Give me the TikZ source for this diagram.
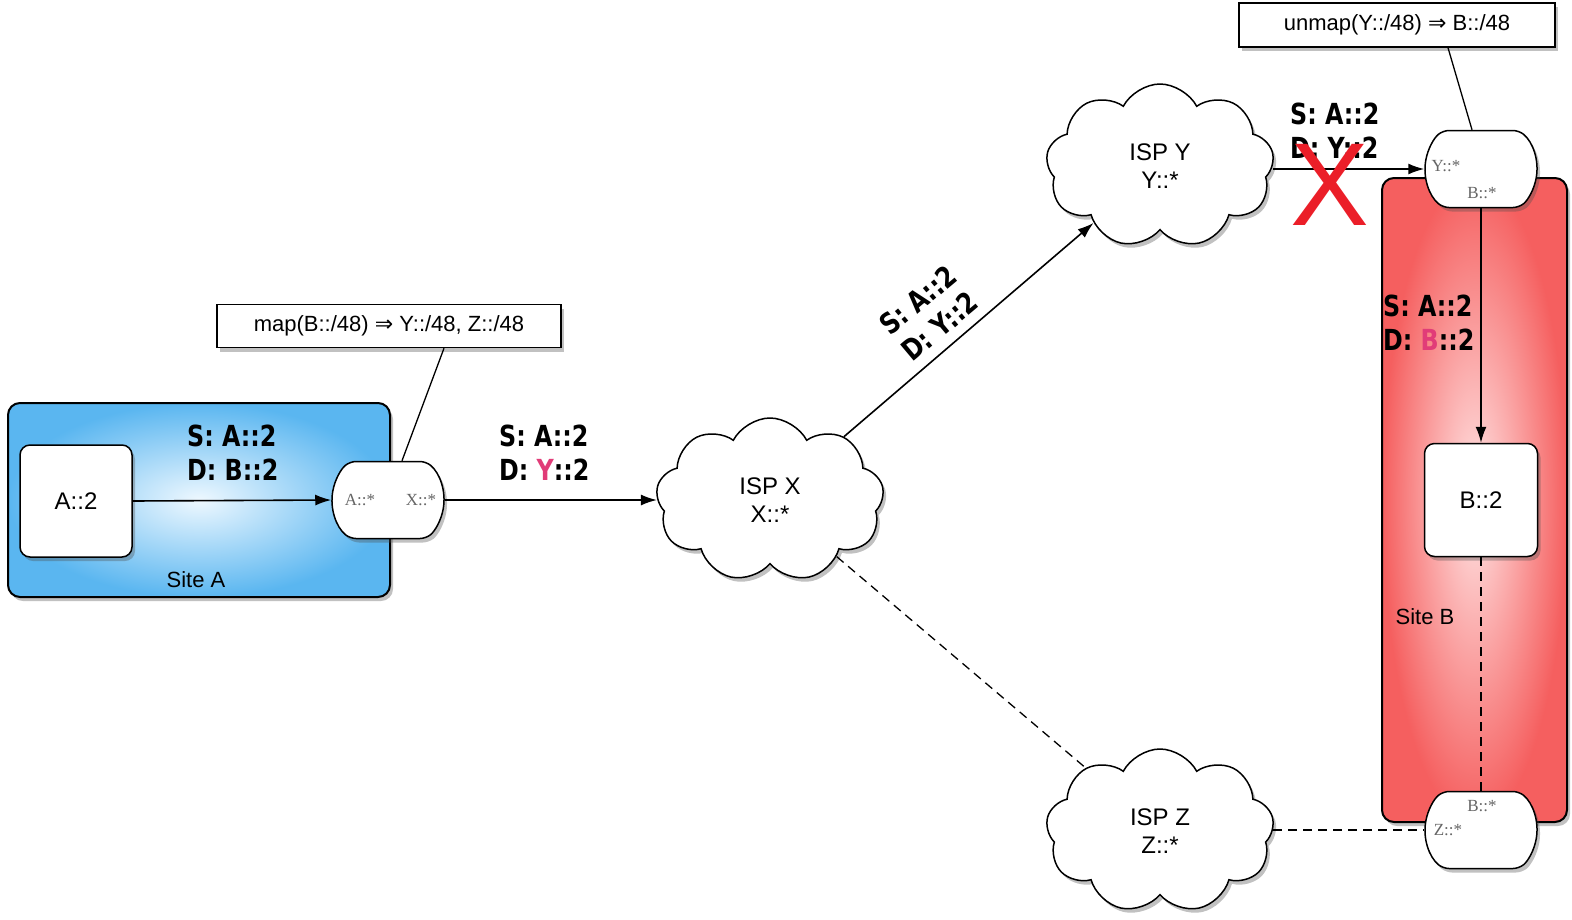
\documentclass[tikz,border=0pt]{standalone}
\usepackage{fontspec}
\setmainfont{Liberation Sans}
\newfontfamily\gwfont{Liberation Serif}
\newfontfamily\mkfont{DejaVu Sans}[FakeStretch=0.82]
\newfontfamily\djv{DejaVu Sans}
\usetikzlibrary{shapes.symbols,shapes.misc,shadows,arrows.meta,calc}
\definecolor{siteAout}{RGB}{90,182,240}
\definecolor{siteAin}{RGB}{238,248,255}
\definecolor{siteBout}{RGB}{245,95,95}
\definecolor{siteBin}{RGB}{255,228,228}
\definecolor{pinkc}{RGB}{225,60,120}
\definecolor{xred}{RGB}{235,30,40}
\tikzset{
  shd/.style={drop shadow={shadow xshift=3pt,shadow yshift=-4pt,opacity=0.35,fill=black!70}},
  sitebox/.style={draw, line width=2pt, rounded corners=12pt, shd},
  hostbox/.style={draw, line width=1.5pt, fill=white, rounded corners=10pt, minimum width=112pt, minimum height=112pt, font=\fontsize{24}{28}\selectfont, shd},
  gwbox/.style={draw, line width=1.5pt, fill=white, rounded rectangle, rounded rectangle arc length=100, rounded corners=6pt, minimum width=112pt, minimum height=77pt, inner sep=0pt, shd},
  isp/.style={cloud, cloud puffs=9, cloud puff arc=125, aspect=1.4, draw, line width=1.5pt, fill=white, minimum width=228pt, minimum height=164pt, align=center, font=\fontsize{24}{28}\selectfont, shd},
  notebox/.style={draw, line width=1.5pt, fill=white, inner sep=0pt, shd, font=\fontsize{22}{26}\selectfont},
  pkt/.style={font=\mkfont\bfseries\fontsize{29}{34}\selectfont, align=left, inner sep=0pt},
  gwtext/.style={font=\gwfont\fontsize{17}{20}\selectfont, text=black!60, inner sep=0pt},
  sitelbl/.style={font=\fontsize{22}{26}\selectfont, inner sep=0pt},
  arr/.style={-{Latex[length=16pt,width=11pt]}, line width=1.6pt},
  dline/.style={dashed, dash pattern=on 9pt off 6pt, line width=1.3pt},
  thin/.style={line width=1.3pt}
}
\begin{document}
\begin{tikzpicture}[x=1pt,y=-1pt]
\useasboundingbox (0,0) rectangle (1572,919);
% sites
\node[sitebox, shading=radial, inner color=siteAin, outer color=siteAout, minimum width=382pt, minimum height=194pt] (siteA) at (199,500) {};
\node[sitebox, shading=radial, inner color=siteBin, outer color=siteBout, minimum width=185pt, minimum height=644pt] (siteB) at (1474.5,500) {};
\node[sitelbl] (siteAl) at (196,580) {Site A};
\node[sitelbl] (siteBl) at (1425,617) {Site B};
% hosts
\node[hostbox] (hA) at (76,501) {A::2};
\node[hostbox, minimum width=113pt, minimum height=113pt] (hB) at (1481,500) {B::2};
% gateways
\node[gwbox] (gwA) at (388,500) {};
\node[gwtext] (gwAa) at (360,500) {A::*};
\node[gwtext] (gwAx) at (421,500) {X::*};
\node[gwbox] (gwBt) at (1481,169) {};
\node[gwtext] (gwBty) at (1446,166) {Y::*};
\node[gwtext] (gwBtb) at (1482,193) {B::*};
\node[gwbox] (gwBb) at (1481,830) {};
\node[gwtext] (gwBbb) at (1482,806) {B::*};
\node[gwtext] (gwBbz) at (1448,830) {Z::*};
% clouds
\node[isp] (ispX) at (770,500) {ISP X\\X::*};
\node[isp] (ispY) at (1160,166) {ISP Y\\Y::*};
\node[isp] (ispZ) at (1160,831) {ISP Z\\Z::*};
% notes
\node[notebox, minimum width=344pt, minimum height=43pt] (map) at (389,326) {map(B::/48) {\djv ⇒} Y::/48, Z::/48};
\node[notebox, minimum width=316pt, minimum height=44pt] (unmap) at (1397,25) {unmap(Y::/48) {\djv ⇒} B::/48};
% connectors
\draw[thin] ($(map.south)+(55,0)$) -- ($(gwA.north)+(14,0)$);
\draw[thin] ($(unmap.south)+(51,0)$) -- ($(gwBt.north)+(-9,0)$);
\draw[arr] (hA.east) -- (gwA.west);
\draw[arr] (gwA.east) -- (ispX.west);
\draw[arr] (ispX) -- (ispY);
\draw[dline] (ispX) -- (ispZ);
\draw[arr] (ispY.east |- gwBt.west) -- (gwBt.west);
\draw[arr] (gwBt.south) -- (hB.north);
\draw[dline] (hB.south) -- (gwBb.north);
\draw[dline] (ispZ.east |- gwBb.west) -- (gwBb.west);
% packet labels
\node[pkt, anchor=west] (pA) at (187,453) {S: A::2\\D: B::2};
\node[pkt, anchor=west] (pX) at (499,453) {S: A::2\\D: \textcolor{pinkc}{Y}::2};
\node[pkt, rotate=40] (pXY) at (929,313) {S: A::2\\D: Y::2};
\node[pkt, anchor=west] (pY) at (1290,131) {S: A::2\\D: Y::2};
\node[pkt, anchor=west] (pB) at (1383,323) {S: A::2\\D: \textcolor{pinkc}{B}::2};
\node[text=xred, font=\fontsize{118}{118}\selectfont, inner sep=0pt] (xmark) at (1330,185) {X};
\end{tikzpicture}
\end{document}
